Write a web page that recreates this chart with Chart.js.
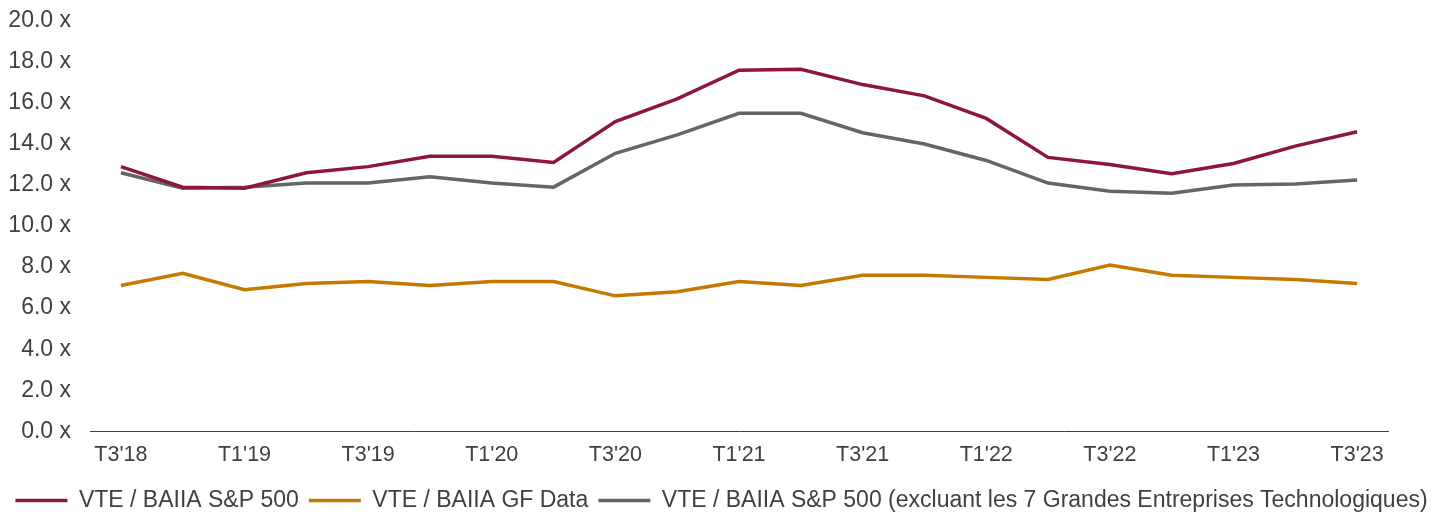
<!DOCTYPE html>
<html lang="fr">
<head>
<meta charset="utf-8">
<title>VTE / BAIIA</title>
<script src="https://cdn.jsdelivr.net/npm/chart.js@4.4.1/dist/chart.umd.min.js"></script>
<style>
  html, body { margin: 0; padding: 0; background: #ffffff; }
  #wrap { position: relative; width: 1443px; height: 514px; }
</style>
</head>
<body>
<div id="wrap"><canvas id="chart"></canvas></div>
<script>
// Trimestres (T = trimestre)
const quarters = ["T3'18", "T4'18", "T1'19", "T2'19", "T3'19", "T4'19", "T1'20", "T2'20",
  "T3'20", "T4'20", "T1'21", "T2'21", "T3'21", "T4'21", "T1'22", "T2'22",
  "T3'22", "T4'22", "T1'23", "T2'23", "T3'23"];

// Multiples VTE / BAIIA
const sp500 = [12.9, 11.9, 11.85, 12.6, 12.9, 13.4, 13.4, 13.1, 15.1, 16.2, 17.6, 17.65,
  16.9, 16.35, 15.25, 13.35, 13.0, 12.55, 13.05, 13.9, 14.6];
const gfData = [7.1, 7.7, 6.9, 7.2, 7.3, 7.1, 7.3, 7.3, 6.6, 6.8, 7.3, 7.1,
  7.6, 7.6, 7.5, 7.4, 8.1, 7.6, 7.5, 7.4, 7.2];
const sp500ExTech = [12.6, 11.85, 11.9, 12.1, 12.1, 12.4, 12.1, 11.9, 13.55, 14.45, 15.5, 15.5,
  14.55, 14.0, 13.2, 12.1, 11.7, 11.6, 12.0, 12.05, 12.25];

const seriesNames = [
  "VTE / BAIIA S&P 500",
  "VTE / BAIIA GF Data",
  "VTE / BAIIA S&P 500 (excluant les 7 Grandes Entreprises Technologiques)"
];

const yTicks = { min: 0, max: 20, step: 2 };

const RED = "#8c1736";
const ORANGE = "#c77800";
const GREY = "#636569";
const TEXT = "#404040";
const FAMILY = "'Liberation Sans', Arial, sans-serif";

function line(label, data, color) {
  return {
    label, data,
    borderColor: color,
    backgroundColor: color,
    borderWidth: 3.5,
    pointRadius: 0,
    pointHoverRadius: 0,
    tension: 0,
    fill: false
  };
}

new Chart(document.getElementById("chart"), {
  type: "line",
  data: {
    labels: quarters,
    datasets: [
      line(seriesNames[0], sp500, RED),
      line(seriesNames[1], gfData, ORANGE),
      line(seriesNames[2], sp500ExTech, GREY)
    ]
  },
  options: {
    responsive: true,
    maintainAspectRatio: false,
    animation: false,
    layout: { padding: { left: 0, right: 0, top: 21, bottom: -8 } },
    plugins: {
      tooltip: { enabled: false },
      legend: {
        position: "bottom",
        labels: {
          color: TEXT,
          font: { family: FAMILY, size: 23 },
          usePointStyle: true,
          pointStyle: "line",
          pointStyleWidth: 52,
          padding: 10
        }
      }
    },
    scales: {
      x: {
        type: "category",
        offset: true,
        grid: { display: false, drawTicks: false },
        border: { display: true, color: "#404040", width: 1 },
        ticks: {
          color: TEXT,
          font: { family: FAMILY, size: 21.5 },
          padding: 11,
          autoSkip: false,
          maxRotation: 0,
          callback: function (value, index) {
            return index % 2 === 0 ? this.getLabelForValue(value) : "";
          }
        }
      },
      y: {
        min: yTicks.min,
        max: yTicks.max,
        grid: { display: false, drawTicks: false },
        border: { display: false },
        afterFit: (scale) => {
          scale.width = 90;
          scale.paddingTop = 0;
          scale.paddingBottom = 0;
        },
        ticks: {
          stepSize: yTicks.step,
          color: TEXT,
          font: { family: FAMILY, size: 23 },
          padding: 19,
          callback: (v) => v.toFixed(1) + " x"
        }
      },
      // empty margin on the right of the plot
      yRight: {
        position: "right",
        grid: { display: false, drawTicks: false },
        border: { display: false },
        ticks: { display: false },
        afterFit: (scale) => { scale.width = 55; }
      }
    }
  }
});
</script>
</body>
</html>
